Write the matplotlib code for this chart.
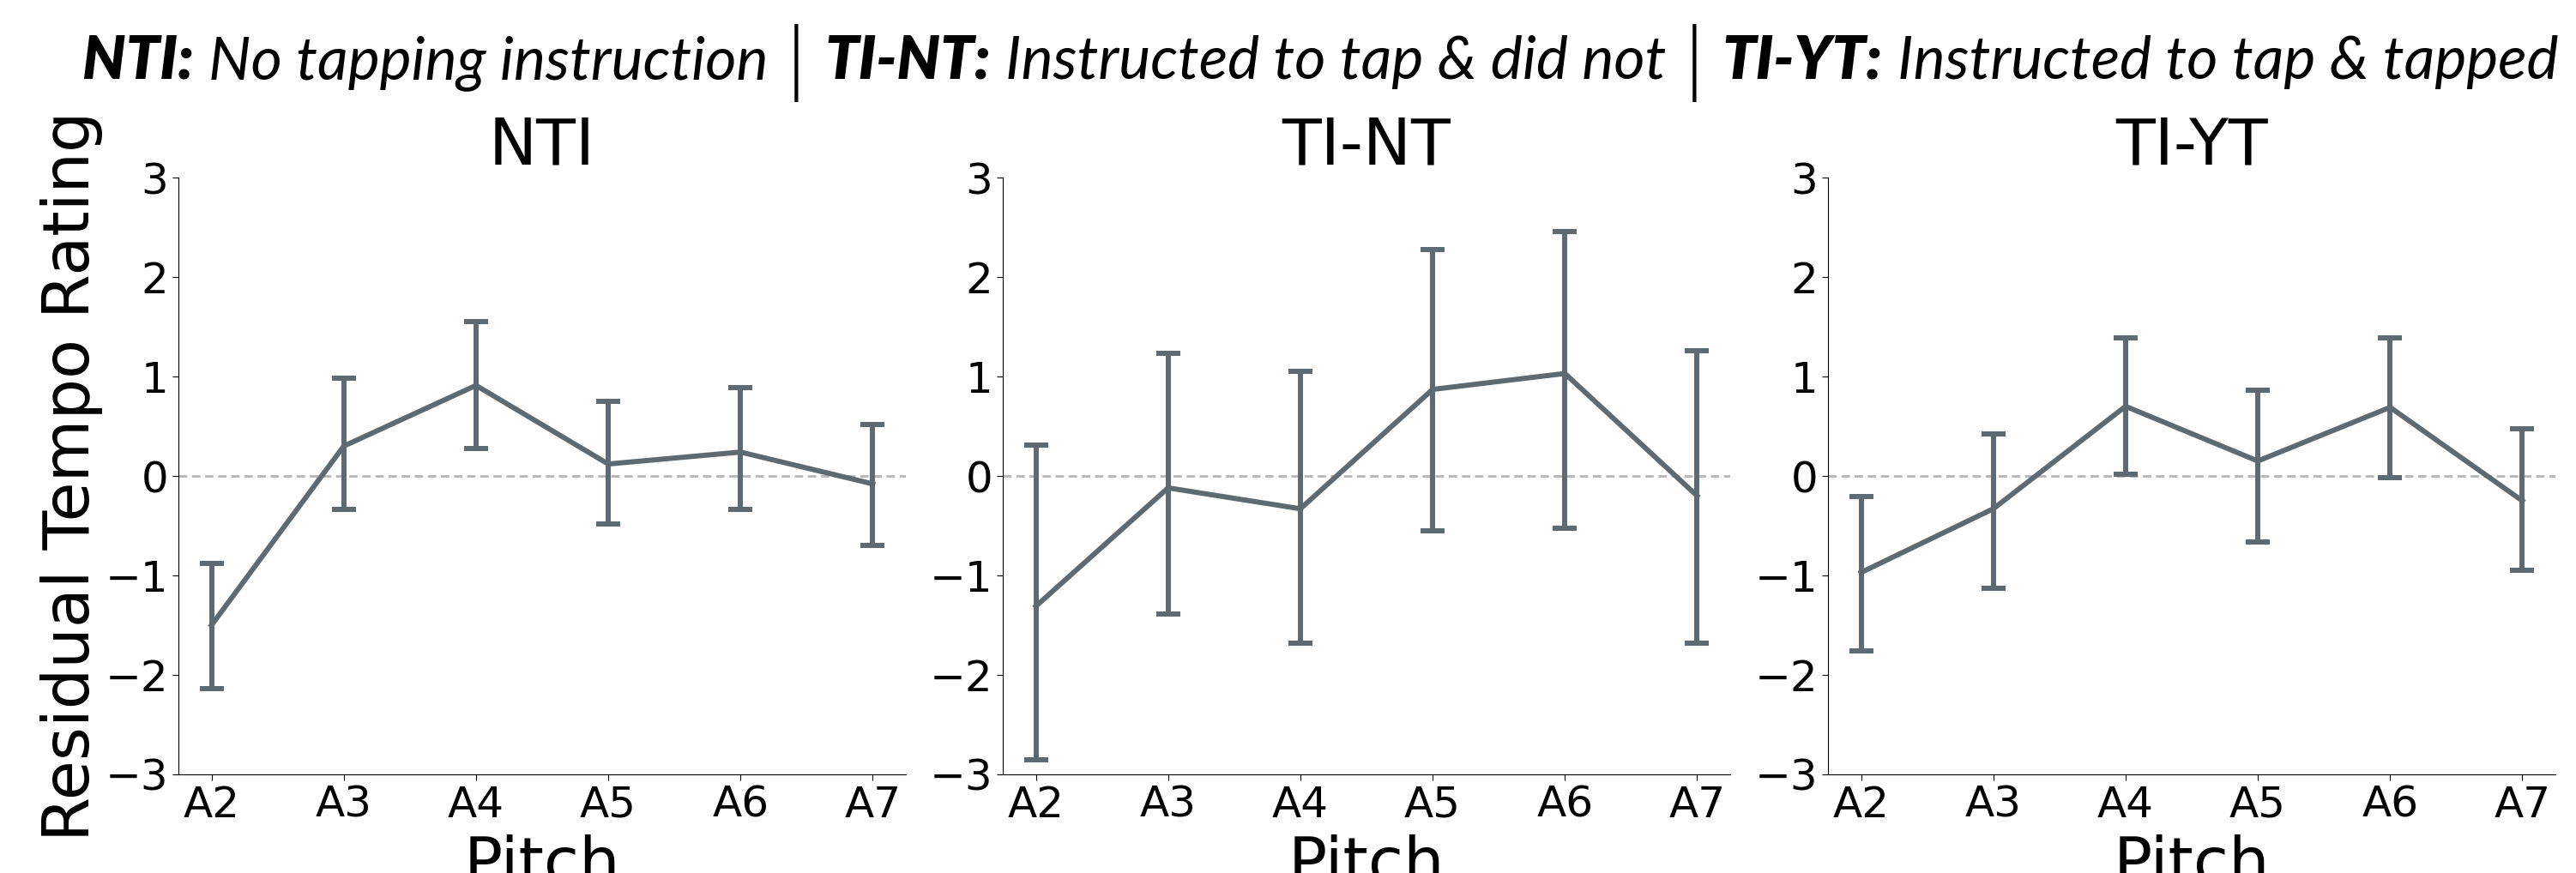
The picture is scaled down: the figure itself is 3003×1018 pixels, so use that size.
import matplotlib
matplotlib.use("Agg")
import matplotlib.pyplot as plt
import numpy as np

# values (mean, lower / upper end of the error bar)
pitches = ["A2", "A3", "A4", "A5", "A6", "A7"]
panels = ["NTI", "TI-NT", "TI-YT"]

nti_mean = [-1.50, 0.30, 0.91, 0.12, 0.24, -0.08]
nti_low = [-2.14, -0.34, 0.28, -0.48, -0.34, -0.70]
nti_high = [-0.88, 0.98, 1.55, 0.75, 0.89, 0.52]

tint_mean = [-1.31, -0.12, -0.33, 0.87, 1.03, -0.20]
tint_low = [-2.85, -1.39, -1.68, -0.55, -0.53, -1.68]
tint_high = [0.31, 1.23, 1.05, 2.28, 2.46, 1.26]

tiyt_mean = [-0.97, -0.33, 0.70, 0.15, 0.69, -0.25]
tiyt_low = [-1.76, -1.13, 0.02, -0.66, -0.02, -0.95]
tiyt_high = [-0.21, 0.42, 1.39, 0.86, 1.39, 0.47]

title_parts = [
    ("NTI:", "heavy"), ("No tapping instruction", "normal"), ("|", "bar"),
    ("TI-NT:", "heavy"), ("Instructed to tap & did not", "normal"), ("|", "bar"),
    ("TI-YT:", "heavy"), ("Instructed to tap & tapped", "normal"),
]

LINE_COLOR = "#5e6a72"
ZERO_COLOR = "#b3b6b9"

W, H, DPI = 3003, 1018, 100
fig = plt.figure(figsize=(W / DPI, H / DPI), dpi=DPI)

lefts = [208, 1169, 2131]
ax_w = 848
ax_top, ax_bot = 207, 903

series = [
    (nti_mean, nti_low, nti_high),
    (tint_mean, tint_low, tint_high),
    (tiyt_mean, tiyt_low, tiyt_high),
]

x = np.arange(len(pitches))
for i, (name, (m, lo, hi)) in enumerate(zip(panels, series)):
    ax = fig.add_axes([lefts[i] / W, 1 - ax_bot / H, ax_w / W, (ax_bot - ax_top) / H])
    m = np.array(m)
    yerr = [m - np.array(lo), np.array(hi) - m]
    ax.axhline(0, color=ZERO_COLOR, lw=2, dashes=(3.5, 2), zorder=1)
    ax.errorbar(x, m, yerr=yerr, color=LINE_COLOR, lw=4.3, elinewidth=4.3,
                capsize=10, capthick=4.3, zorder=3)
    ax.set_xlim(-0.25, 5.25)
    ax.set_ylim(-3, 3)
    ax.set_xticks(x)
    ax.set_xticklabels(pitches)
    ax.set_yticks([-3, -2, -1, 0, 1, 2, 3])
    ax.tick_params(labelsize=36, length=5, width=0.8)
    ax.spines["top"].set_visible(False)
    ax.spines["right"].set_visible(False)
    ax.set_title(name, fontsize=54, pad=2)
    ax.set_xlabel("Pitch", fontsize=54, labelpad=7)
    if i == 0:
        ax.set_ylabel("Residual Tempo Rating", fontsize=54, labelpad=2)

# suptitle built from pieces (bold-italic labels, italic descriptions)
renderer = fig.canvas.get_renderer()


def place_title(size, draw=True):
    texts = []
    xpos = 96
    sp = size * 0.25 * DPI / 72
    for k, (txt, kind) in enumerate(title_parts):
        if kind == "bar":
            t = fig.text(xpos / W, 1 - 97 / H, txt, fontsize=size * 1.3, family="DejaVu Sans",
                         fontweight="light", va="baseline", ha="left")
        else:
            t = fig.text(xpos / W, 1 - 92 / H, txt, fontsize=size, family="Lato",
                         style="italic", fontweight=kind, va="baseline", ha="left")
        texts.append(t)
        w = t.get_window_extent(renderer).width
        xpos += w
        if k < len(title_parts) - 1:
            xpos += sp
    if not draw:
        for t in texts:
            t.remove()
    return xpos - 96


base = 46
total = place_title(base, draw=False)
place_title(base * 2888 / total)

fig.savefig("out.png", dpi=DPI)
